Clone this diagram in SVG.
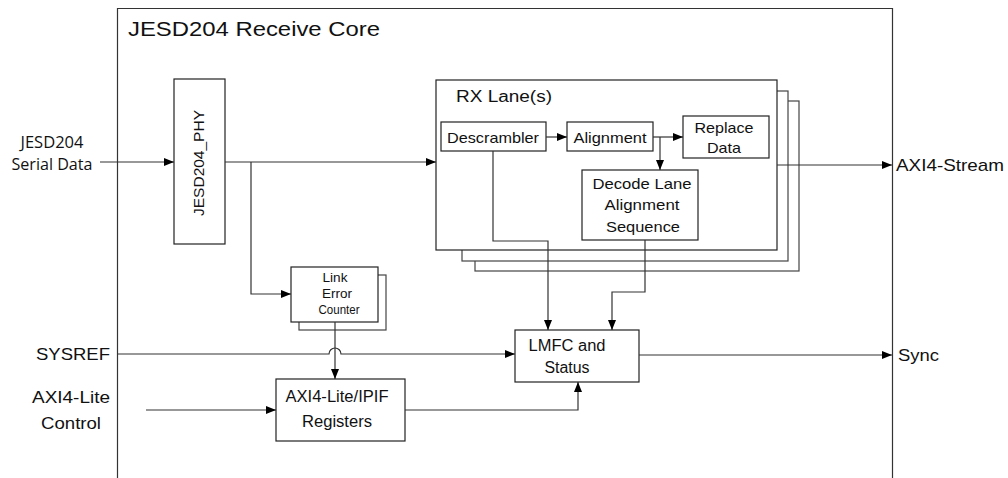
<svg xmlns="http://www.w3.org/2000/svg" width="1008" height="478" viewBox="0 0 1008 478">
<defs>
<marker id="ah" viewBox="0 0 10 8" refX="10" refY="4" markerWidth="10" markerHeight="8" markerUnits="userSpaceOnUse" orient="auto">
<path d="M0,0 L10,4 L0,8 Z" fill="#000"/>
</marker>
</defs>
<style>
.box{fill:#fff;stroke:#222;stroke-width:1.2}
.stk{fill:#fff;stroke:#444;stroke-width:1.2}
.ln{fill:none;stroke:#333;stroke-width:1.2}
.ar{fill:none;stroke:#333;stroke-width:1.2;marker-end:url(#ah)}
.t{font-family:"Liberation Sans",Arial,sans-serif;fill:#111}
.o{font-family:"Open Sans","Liberation Sans",sans-serif;fill:#111}
</style>
<rect width="1008" height="478" fill="#fff"/>
<g id="core">
<path class="ln" d="M117.5,478 V8.5 H892.5 V478" stroke="#111"/>
<text class="t" x="128" y="36" font-size="21" textLength="252" lengthAdjust="spacingAndGlyphs">JESD204 Receive Core</text>
</g>
<g id="phy">
<rect class="box" x="174" y="79" width="51" height="165"/>
<text class="t" transform="translate(204,163) rotate(-90)" text-anchor="middle" font-size="15" textLength="106" lengthAdjust="spacingAndGlyphs">JESD204_PHY</text>
</g>
<g id="rxlane">
<rect class="stk" x="475" y="101" width="324" height="170"/>
<rect class="stk" x="462" y="91" width="326" height="170"/>
<rect class="box" x="436" y="80" width="341" height="170"/>
<text class="t" x="456" y="102" font-size="16" textLength="96" lengthAdjust="spacingAndGlyphs">RX Lane(s)</text>
</g>
<g id="descrambler">
<rect class="box" x="441" y="122" width="105" height="29"/>
<text class="t" x="493" y="143" font-size="15" text-anchor="middle" textLength="92" lengthAdjust="spacingAndGlyphs">Descrambler</text>
</g>
<g id="alignment">
<rect class="box" x="567" y="122" width="86" height="29"/>
<text class="t" x="610" y="143" font-size="15" text-anchor="middle" textLength="73" lengthAdjust="spacingAndGlyphs">Alignment</text>
</g>
<g id="replace">
<rect class="box" x="683" y="116" width="86" height="42"/>
<text class="t" x="724" y="133" font-size="15" text-anchor="middle" textLength="59" lengthAdjust="spacingAndGlyphs">Replace</text>
<text class="t" x="724" y="153" font-size="15" text-anchor="middle" textLength="34" lengthAdjust="spacingAndGlyphs">Data</text>
</g>
<g id="decode">
<rect class="box" x="582" y="170" width="116" height="70"/>
<text class="t" x="642" y="189" font-size="15" text-anchor="middle" textLength="99" lengthAdjust="spacingAndGlyphs">Decode Lane</text>
<text class="t" x="642" y="210" font-size="15" text-anchor="middle" textLength="75" lengthAdjust="spacingAndGlyphs">Alignment</text>
<text class="t" x="643" y="232" font-size="15" text-anchor="middle" textLength="74" lengthAdjust="spacingAndGlyphs">Sequence</text>
</g>
<g id="lec">
<rect class="stk" x="299" y="275" width="87" height="55"/>
<rect class="box" x="291" y="267" width="87" height="55"/>
<text class="t" x="335" y="282" font-size="12.5" text-anchor="middle" textLength="25" lengthAdjust="spacingAndGlyphs">Link</text>
<text class="t" x="337" y="298" font-size="12.5" text-anchor="middle" textLength="30" lengthAdjust="spacingAndGlyphs">Error</text>
<text class="t" x="339" y="314" font-size="12.5" text-anchor="middle" textLength="41" lengthAdjust="spacingAndGlyphs">Counter</text>
</g>
<g id="regs">
<rect class="box" x="276" y="379" width="129" height="62"/>
<text class="t" x="337" y="402" font-size="16" text-anchor="middle" textLength="103" lengthAdjust="spacingAndGlyphs">AXI4-Lite/IPIF</text>
<text class="t" x="337" y="427" font-size="16" text-anchor="middle" textLength="70" lengthAdjust="spacingAndGlyphs">Registers</text>
</g>
<g id="lmfc">
<rect class="box" x="515" y="330" width="124" height="52"/>
<text class="t" x="567" y="351" font-size="16" text-anchor="middle" textLength="77" lengthAdjust="spacingAndGlyphs">LMFC and</text>
<text class="t" x="567" y="373" font-size="16" text-anchor="middle" textLength="45" lengthAdjust="spacingAndGlyphs">Status</text>
</g>
<g id="labels">
<text class="o" x="52" y="148" font-size="16" text-anchor="middle" textLength="63" lengthAdjust="spacingAndGlyphs">JESD204</text>
<text class="o" x="52" y="170" font-size="16" text-anchor="middle" textLength="81" lengthAdjust="spacingAndGlyphs">Serial Data</text>
<text class="t" x="110" y="360" font-size="17" text-anchor="end" textLength="74" lengthAdjust="spacingAndGlyphs">SYSREF</text>
<text class="t" x="110" y="403" font-size="17" text-anchor="end" textLength="78" lengthAdjust="spacingAndGlyphs">AXI4-Lite</text>
<text class="t" x="71" y="429" font-size="17" text-anchor="middle" textLength="60" lengthAdjust="spacingAndGlyphs">Control</text>
<text class="t" x="896" y="171" font-size="17" textLength="108" lengthAdjust="spacingAndGlyphs">AXI4-Stream</text>
<text class="t" x="898" y="361" font-size="17" textLength="41" lengthAdjust="spacingAndGlyphs">Sync</text>
</g>
<g id="connectors">
<path class="ar" d="M100,162 H174"/>
<path class="ar" d="M225,162 H436"/>
<path class="ar" d="M251,162 V294 H291"/>
<path class="ar" d="M546,137 H567"/>
<path class="ar" d="M653,137 H683"/>
<path class="ar" d="M660,137 V170"/>
<path class="ar" d="M493,151 V241 H548 V330"/>
<path class="ar" d="M645,240 V292 H612 V330"/>
<path class="ar" d="M777,165 H892"/>
<path class="ar" d="M335,322 V379"/>
<path class="ar" d="M118,354 H329 A6,6 0 0 1 341,354 H515"/>
<path class="ar" d="M146,410 H276"/>
<path class="ar" d="M405,410 H578 V382"/>
<path class="ar" d="M639,355 H892"/>
</g>
</svg>
